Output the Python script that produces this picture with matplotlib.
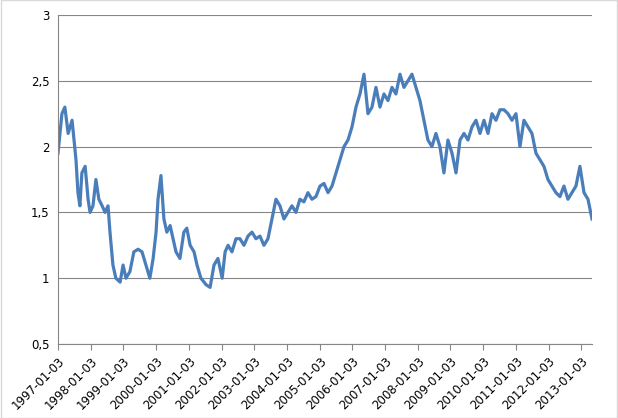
import matplotlib
matplotlib.use("Agg")
import matplotlib.pyplot as plt
import numpy as np
import datetime as dt

early_years = [1997.00,1997.12,1997.21,1997.31,1997.43,1997.55,1997.61,1997.67,1997.73,1997.83,1997.92,1997.98,
               1998.07,1998.16,1998.25,1998.35,1998.44,1998.53,1998.59,1998.68,1998.77,1998.90,1998.99,
               1999.08,1999.20,1999.32,1999.45,1999.57,1999.69,1999.81,1999.91,2000.00,2000.06,2000.15,
               2000.24,2000.33,2000.43,2000.52,2000.61,2000.73,2000.85,2000.94,2001.04,2001.16,2001.25,
               2001.37,2001.53,2001.65,2001.77,2001.89,2002.02,2002.11,2002.20]
early_vals = [1.95,2.25,2.3,2.1,2.2,1.9,1.65,1.55,1.8,1.85,1.6,1.5,
              1.55,1.75,1.6,1.55,1.5,1.55,1.35,1.1,1.0,0.97,1.1,
              1.0,1.05,1.2,1.22,1.2,1.1,1.0,1.15,1.35,1.6,1.78,
              1.45,1.35,1.4,1.3,1.2,1.15,1.35,1.38,1.25,1.2,1.1,
              1.0,0.95,0.93,1.1,1.15,1.0,1.2,1.25]
late_start = 2002.32
late_step = 0.1223
late_vals = [1.2,1.3,1.3,1.25,1.32,1.35,1.3,1.32,1.25,1.3,1.45,1.6,1.55,1.45,1.5,1.55,1.5,1.6,1.58,1.65,
             1.6,1.62,1.7,1.72,1.65,1.7,1.8,1.9,2.0,2.05,2.15,2.3,2.4,2.55,2.25,2.3,2.45,2.3,2.4,2.35,
             2.45,2.4,2.55,2.45,2.5,2.55,2.45,2.35,2.2,2.05,2.0,2.1,2.0,1.8,2.05,1.95,1.8,2.05,2.1,2.05,
             2.15,2.2,2.1,2.2,2.1,2.25,2.2,2.28,2.28,2.25,2.2,2.25,2.0,2.2,2.15,2.1,1.95,1.9,1.85,1.75,
             1.7,1.65,1.62,1.7,1.6,1.65,1.7,1.85,1.65,1.6,1.45]

years = early_years + [late_start + late_step*i for i in range(len(late_vals))]
vals = early_vals + late_vals

def to_date(y):
    yr = int(y)
    start = dt.datetime(yr, 1, 3)
    return start + dt.timedelta(days=(y - yr) * 365.25)

dates = [to_date(y) for y in years]

fig = plt.figure(figsize=(6.18, 4.18), dpi=100)
ax = fig.add_axes([58/618, 1-344/418, 534/618, 329/418])
ax.plot(dates, vals, color="#4A7EBB", lw=2.3)
ax.set_ylim(0.5, 3)
yt = [0.5, 1, 1.5, 2, 2.5, 3]
ax.set_yticks(yt)
ax.set_yticklabels([("%g" % v).replace(".", ",") for v in yt], fontsize=8.5)
xt = [dt.datetime(y, 1, 3) for y in range(1997, 2014)]
ax.set_xticks(xt)
ax.set_xticklabels([d.strftime("%Y-%m-%d") for d in xt], rotation=45, ha="right", fontsize=8.5,
                   rotation_mode="anchor")
ax.set_xlim(dates[0], dates[-1])
ax.grid(axis="y", color="#868686", lw=0.8)
ax.set_axisbelow(True)
for s in ["top", "right"]:
    ax.spines[s].set_visible(False)
for s in ["left", "bottom"]:
    ax.spines[s].set_color("#868686")
ax.tick_params(axis="y", length=0, pad=6)
ax.tick_params(axis="x", length=4, color="#868686")
fig.patches.append(plt.Rectangle((0.001, 0.001), 0.998, 0.998, transform=fig.transFigure,
                                 fill=False, edgecolor="#D9D9D9", lw=1))
fig.savefig("out.png", dpi=100)
